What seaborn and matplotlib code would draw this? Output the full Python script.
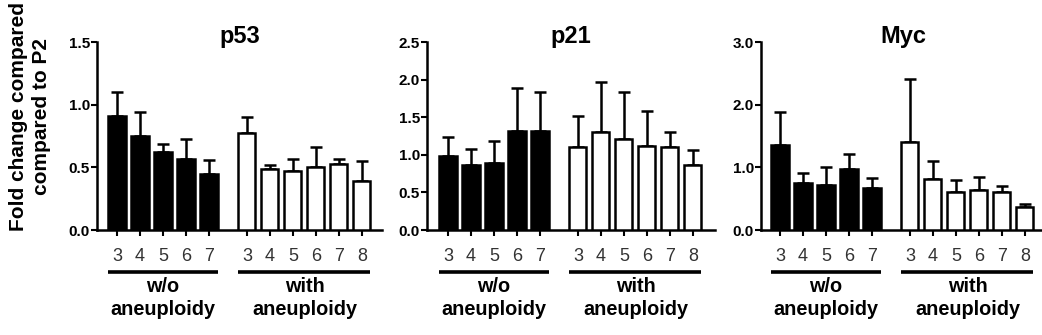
import matplotlib
matplotlib.use("Agg")
import matplotlib.pyplot as plt
import matplotlib.transforms as mtransforms
import seaborn as sns
import pandas as pd
import numpy as np

sns.set_theme(style="ticks")
plt.rcParams['font.family'] = ['Liberation Sans', 'DejaVu Sans']
plt.rcParams['text.color'] = 'black'

# ---- data ----
titles = ["p53", "p21", "Myc"]
wo_labels = ["3", "4", "5", "6", "7"]
with_labels = ["3", "4", "5", "6", "7", "8"]
group_names = ["w/o\naneuploidy", "with\naneuploidy"]

p53_wo = [0.91, 0.75, 0.625, 0.565, 0.445]
p53_wo_err = [0.19, 0.19, 0.065, 0.165, 0.115]
p53_with = [0.77, 0.485, 0.47, 0.50, 0.53, 0.39]
p53_with_err = [0.13, 0.035, 0.10, 0.16, 0.04, 0.16]

p21_wo = [0.99, 0.866, 0.89, 1.32, 1.31]
p21_wo_err = [0.25, 0.21, 0.29, 0.57, 0.53]
p21_with = [1.10, 1.30, 1.21, 1.12, 1.11, 0.87]
p21_with_err = [0.41, 0.67, 0.63, 0.46, 0.19, 0.20]

myc_wo = [1.36, 0.746, 0.72, 0.97, 0.666]
myc_wo_err = [0.53, 0.16, 0.28, 0.24, 0.16]
myc_with = [1.40, 0.81, 0.61, 0.64, 0.60, 0.373]
myc_with_err = [1.01, 0.29, 0.18, 0.20, 0.11, 0.037]

ymaxes = [1.5, 2.5, 3.0]
yticks = [[0.0, 0.5, 1.0, 1.5], [0.0, 0.5, 1.0, 1.5, 2.0, 2.5], [0.0, 1.0, 2.0, 3.0]]
ytick_fmt = ["{:.1f}", "{:.1f}", "{:.1f}"]

panels = [
    (p53_wo, p53_wo_err, p53_with, p53_with_err),
    (p21_wo, p21_wo_err, p21_with, p21_with_err),
    (myc_wo, myc_wo_err, myc_with, myc_with_err),
]

# ---- layout (pixels) ----
W, H = 1042, 335
fig = plt.figure(figsize=(W / 100, H / 100), dpi=100)
pitch = 23.0
axes_px = [(97, 382, 117), (427, 715, 448), (761, 1046, 780)]  # left, right, first bar center
y0_px, ytop_px = 230, 42
gap = 5.65
bw = 0.74
lw = 1.8

for i, ((l, r, fc), (wo, woe, wi, wie)) in enumerate(zip(axes_px, panels)):
    ax = fig.add_axes([l / W, 1 - y0_px / H, (r - l) / W, (y0_px - ytop_px) / H])
    x_wo = np.arange(len(wo), dtype=float)
    x_wi = np.arange(len(wi), dtype=float) + gap
    df_wo = pd.DataFrame({"x": x_wo, "y": wo})
    df_wi = pd.DataFrame({"x": x_wi, "y": wi})
    ax.errorbar(x_wo, wo, yerr=[np.zeros(len(wo)), woe], fmt="none", ecolor="black",
                elinewidth=lw, capsize=4, capthick=lw, zorder=1)
    ax.errorbar(x_wi, wi, yerr=[np.zeros(len(wi)), wie], fmt="none", ecolor="black",
                elinewidth=lw, capsize=4, capthick=lw, zorder=1)
    sns.barplot(data=df_wo, x="x", y="y", native_scale=True, width=bw, color="black",
                edgecolor="black", linewidth=lw, saturation=1, ax=ax, zorder=3)
    sns.barplot(data=df_wi, x="x", y="y", native_scale=True, width=bw, color="white",
                edgecolor="black", linewidth=lw, saturation=1, ax=ax, zorder=3)
    ax.set_xlim((l - fc) / pitch, (r - fc) / pitch)
    ax.set_ylim(0, ymaxes[i])
    ax.set_yticks(yticks[i])
    ax.set_yticklabels([ytick_fmt[i].format(v) for v in yticks[i]], fontsize=11, fontweight="bold")
    ax.set_xticks(list(x_wo) + list(x_wi))
    ax.set_xticklabels(wo_labels + with_labels, fontsize=13, color="#333333")
    ax.tick_params(axis="y", length=4, width=1.5, pad=1, colors="black", labelcolor="black")
    ax.tick_params(axis="x", length=4, width=1.5, pad=9, colors="black", labelcolor="#333333")
    for s in ["top", "right"]:
        ax.spines[s].set_visible(False)
    for s in ["left", "bottom"]:
        ax.spines[s].set_linewidth(1.8)
        ax.spines[s].set_color("black")
    ax.set_xlabel("")
    ax.set_ylabel("")
    # title
    ax.text(0.5, 1.03, titles[i], transform=ax.transAxes, ha="center", va="center",
            fontsize=17, fontweight="bold", color="black")
    # group underline + labels
    trans = mtransforms.blended_transform_factory(ax.transData, ax.transAxes)
    for xs, name in ((x_wo, group_names[0]), (x_wi, group_names[1])):
        x1 = xs[0] - bw / 2
        x2 = xs[-1] + bw / 2
        ax.plot([x1, x2], [-0.223, -0.223], color="black", lw=2.6, transform=trans,
                clip_on=False, solid_capstyle="butt")
        ax.text((x1 + x2) / 2, -0.25, name, transform=trans, ha="center", va="top",
                fontsize=14.3, fontweight="bold", linespacing=1.25, color="black")

fig.text(30 / W, 1 - 117 / H, "Fold change compared\ncompared to P2", rotation=90,
         ha="center", va="center", fontsize=15, fontweight="bold", linespacing=1.3,
         color="black")

fig.savefig("out.png", dpi=100, facecolor="white")
